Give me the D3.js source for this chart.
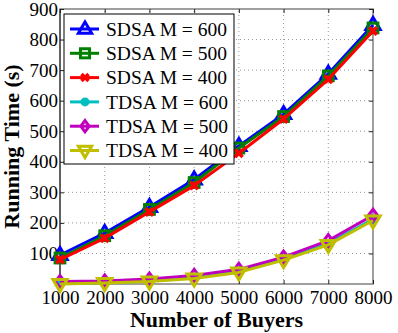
<!DOCTYPE html>
<html><head><meta charset="utf-8">
<script src="https://cdn.jsdelivr.net/npm/d3@7"></script>
<style>body{margin:0;background:#fff}svg{display:block}</style>
</head><body>
<script>
const buyers = [1000,2000,3000,4000,5000,6000,7000,8000];
const sdsa600 = [95,167,252,342,452,556,688,848];
const sdsa500 = [85,158,244,332,445,548,681,838];
const sdsa400 = [80,150,236,322,428,540,670,828];
const tdsa600 = [2,4,10,22,42,82,132,212];
const tdsa500 = [8,10,16,28,48,88,142,225];
const tdsa400 = [0,3,8,18,38,78,128,208];
const yTicks = [100,200,300,400,500,600,700,800,900];
const seriesNames = ["SDSA M = 600","SDSA M = 500","SDSA M = 400","TDSA M = 600","TDSA M = 500","TDSA M = 400"];
const seriesValues = [sdsa600,sdsa500,sdsa400,tdsa600,tdsa500,tdsa400];
const colors = ["#0000ff","#008000","#ff0000","#00bfbf","#bf00bf","#bfbf00"];
const markers = ["triUp","square","x","circle","diamond","triDown"];

const W=398,H=333;
const m={l:60,r:25,t:9,b:49};
const FONT='"Liberation Serif", "DejaVu Serif", serif';
const svg=d3.select("body").append("svg").attr("width",W).attr("height",H);
const x=d3.scaleLinear().domain([1000,8000]).range([m.l,W-m.r]);
const y=d3.scaleLinear().domain([0,900]).range([H-m.b,m.t]);

const g=svg.append("g");
g.selectAll(".gx").data(buyers.slice(1,-1)).enter().append("line")
 .attr("x1",d=>x(d)).attr("x2",d=>x(d)).attr("y1",y(0)).attr("y2",y(900))
 .attr("stroke","#999").attr("stroke-dasharray","1,3").attr("stroke-width",1);
g.selectAll(".gy").data(yTicks.slice(0,-1)).enter().append("line")
 .attr("x1",x(1000)).attr("x2",x(8000)).attr("y1",d=>y(d)).attr("y2",d=>y(d))
 .attr("stroke","#999").attr("stroke-dasharray","1,3").attr("stroke-width",1);

svg.append("rect").attr("x",x(1000)).attr("y",y(900)).attr("width",x(8000)-x(1000)).attr("height",y(0)-y(900))
 .attr("fill","none").attr("stroke","#808080").attr("stroke-width",1.5);
svg.append("line").attr("x1",x(1000)).attr("x2",x(1000)).attr("y1",y(0)).attr("y2",y(900)).attr("stroke","#222").attr("stroke-width",1);

function styleText(s,size){ s.attr("font-family",FONT).attr("font-size",size).attr("fill","#000"); }

const xa=svg.append("g").attr("transform",`translate(0,${y(0)})`)
 .call(d3.axisBottom(x).tickValues(buyers).tickFormat(d3.format("d")).tickSizeInner(-4).tickSizeOuter(0));
xa.attr("font-family",FONT).attr("font-size",19);
xa.select(".domain").remove();
xa.selectAll("line").attr("stroke","#222");
xa.selectAll("text").call(styleText,19).attr("dy","0.9em").attr("y",3);
const ya=svg.append("g").attr("transform",`translate(${x(1000)},0)`)
 .call(d3.axisLeft(y).tickValues(yTicks).tickSizeInner(-4).tickSizeOuter(0));
ya.attr("font-family",FONT).attr("font-size",19);
ya.select(".domain").remove();
ya.selectAll("line").attr("stroke","#222");
ya.selectAll("text").call(styleText,19).attr("x",-2);
svg.append("g").attr("transform",`translate(${x(8000)},0)`)
 .call(d3.axisRight(y).tickValues(yTicks).tickSizeInner(-4).tickSizeOuter(0).tickFormat(""))
 .call(s=>{s.select(".domain").remove();s.selectAll("line").attr("stroke","#222");});
svg.append("g").attr("transform",`translate(0,${y(900)})`)
 .call(d3.axisTop(x).tickValues(buyers).tickSizeInner(-4).tickSizeOuter(0).tickFormat(""))
 .call(s=>{s.select(".domain").remove();s.selectAll("line").attr("stroke","#222");});

svg.append("text").attr("x",(x(1000)+x(8000))/2).attr("y",327).attr("text-anchor","middle")
 .call(styleText,22).attr("font-weight","bold").text("Number of Buyers");
svg.append("text").attr("transform",`translate(19,${(y(0)+y(900))/2}) rotate(-90)`).attr("text-anchor","middle")
 .call(styleText,22).attr("font-weight","bold").text("Running Time (s)");

function marker(sel,type,color,r){
  if(type==="triUp") sel.append("path").attr("d",`M0,${-r}L${r*0.95},${r*0.6}L${-r*0.95},${r*0.6}Z`).attr("fill","none").attr("stroke",color).attr("stroke-width",3);
  else if(type==="triDown") sel.append("path").attr("d",`M0,${r}L${r*0.95},${-r*0.6}L${-r*0.95},${-r*0.6}Z`).attr("fill","none").attr("stroke",color).attr("stroke-width",3);
  else if(type==="square") sel.append("rect").attr("x",-r*0.65).attr("y",-r*0.65).attr("width",r*1.3).attr("height",r*1.3).attr("fill","none").attr("stroke",color).attr("stroke-width",3);
  else if(type==="circle") sel.append("circle").attr("r",r*0.5).attr("fill",color).attr("stroke",color).attr("stroke-width",2);
  else if(type==="diamond") sel.append("path").attr("d",`M0,${-r*0.8}L${r*0.6},0L0,${r*0.8}L${-r*0.6},0Z`).attr("fill","none").attr("stroke",color).attr("stroke-width",3);
  else if(type==="x") sel.append("path").attr("d",`M${-r*0.5},${-r*0.5}L${r*0.5},${r*0.5}M${r*0.5},${-r*0.5}L${-r*0.5},${r*0.5}`).attr("stroke",color).attr("stroke-width",3.5);
}

const line=d3.line().x((d,i)=>x(buyers[i])).y(d=>y(d));
seriesValues.forEach((vals,k)=>{
  const gg=svg.append("g");
  gg.append("path").datum(vals).attr("d",line).attr("fill","none").attr("stroke",colors[k]).attr("stroke-width",3).attr("stroke-linejoin","round");
  vals.forEach((v,i)=>{
    const mg=gg.append("g").attr("transform",`translate(${x(buyers[i])},${y(v)})`);
    marker(mg,markers[k],colors[k],7.5);
  });
});

const lg=svg.append("g");
lg.append("rect").attr("x",64).attr("y",14).attr("width",170).attr("height",150).attr("fill","#fff").attr("stroke","#000").attr("stroke-width",1);
seriesNames.forEach((n,k)=>{
  const yy=29+k*24.3;
  lg.append("line").attr("x1",70).attr("x2",99).attr("y1",yy).attr("y2",yy).attr("stroke",colors[k]).attr("stroke-width",3);
  const mg=lg.append("g").attr("transform",`translate(85,${yy})`);
  marker(mg,markers[k],colors[k],7);
  lg.append("text").attr("x",106).attr("y",yy).attr("dy","0.35em").call(styleText,19.5).text(n);
});
</script>
</body></html>
